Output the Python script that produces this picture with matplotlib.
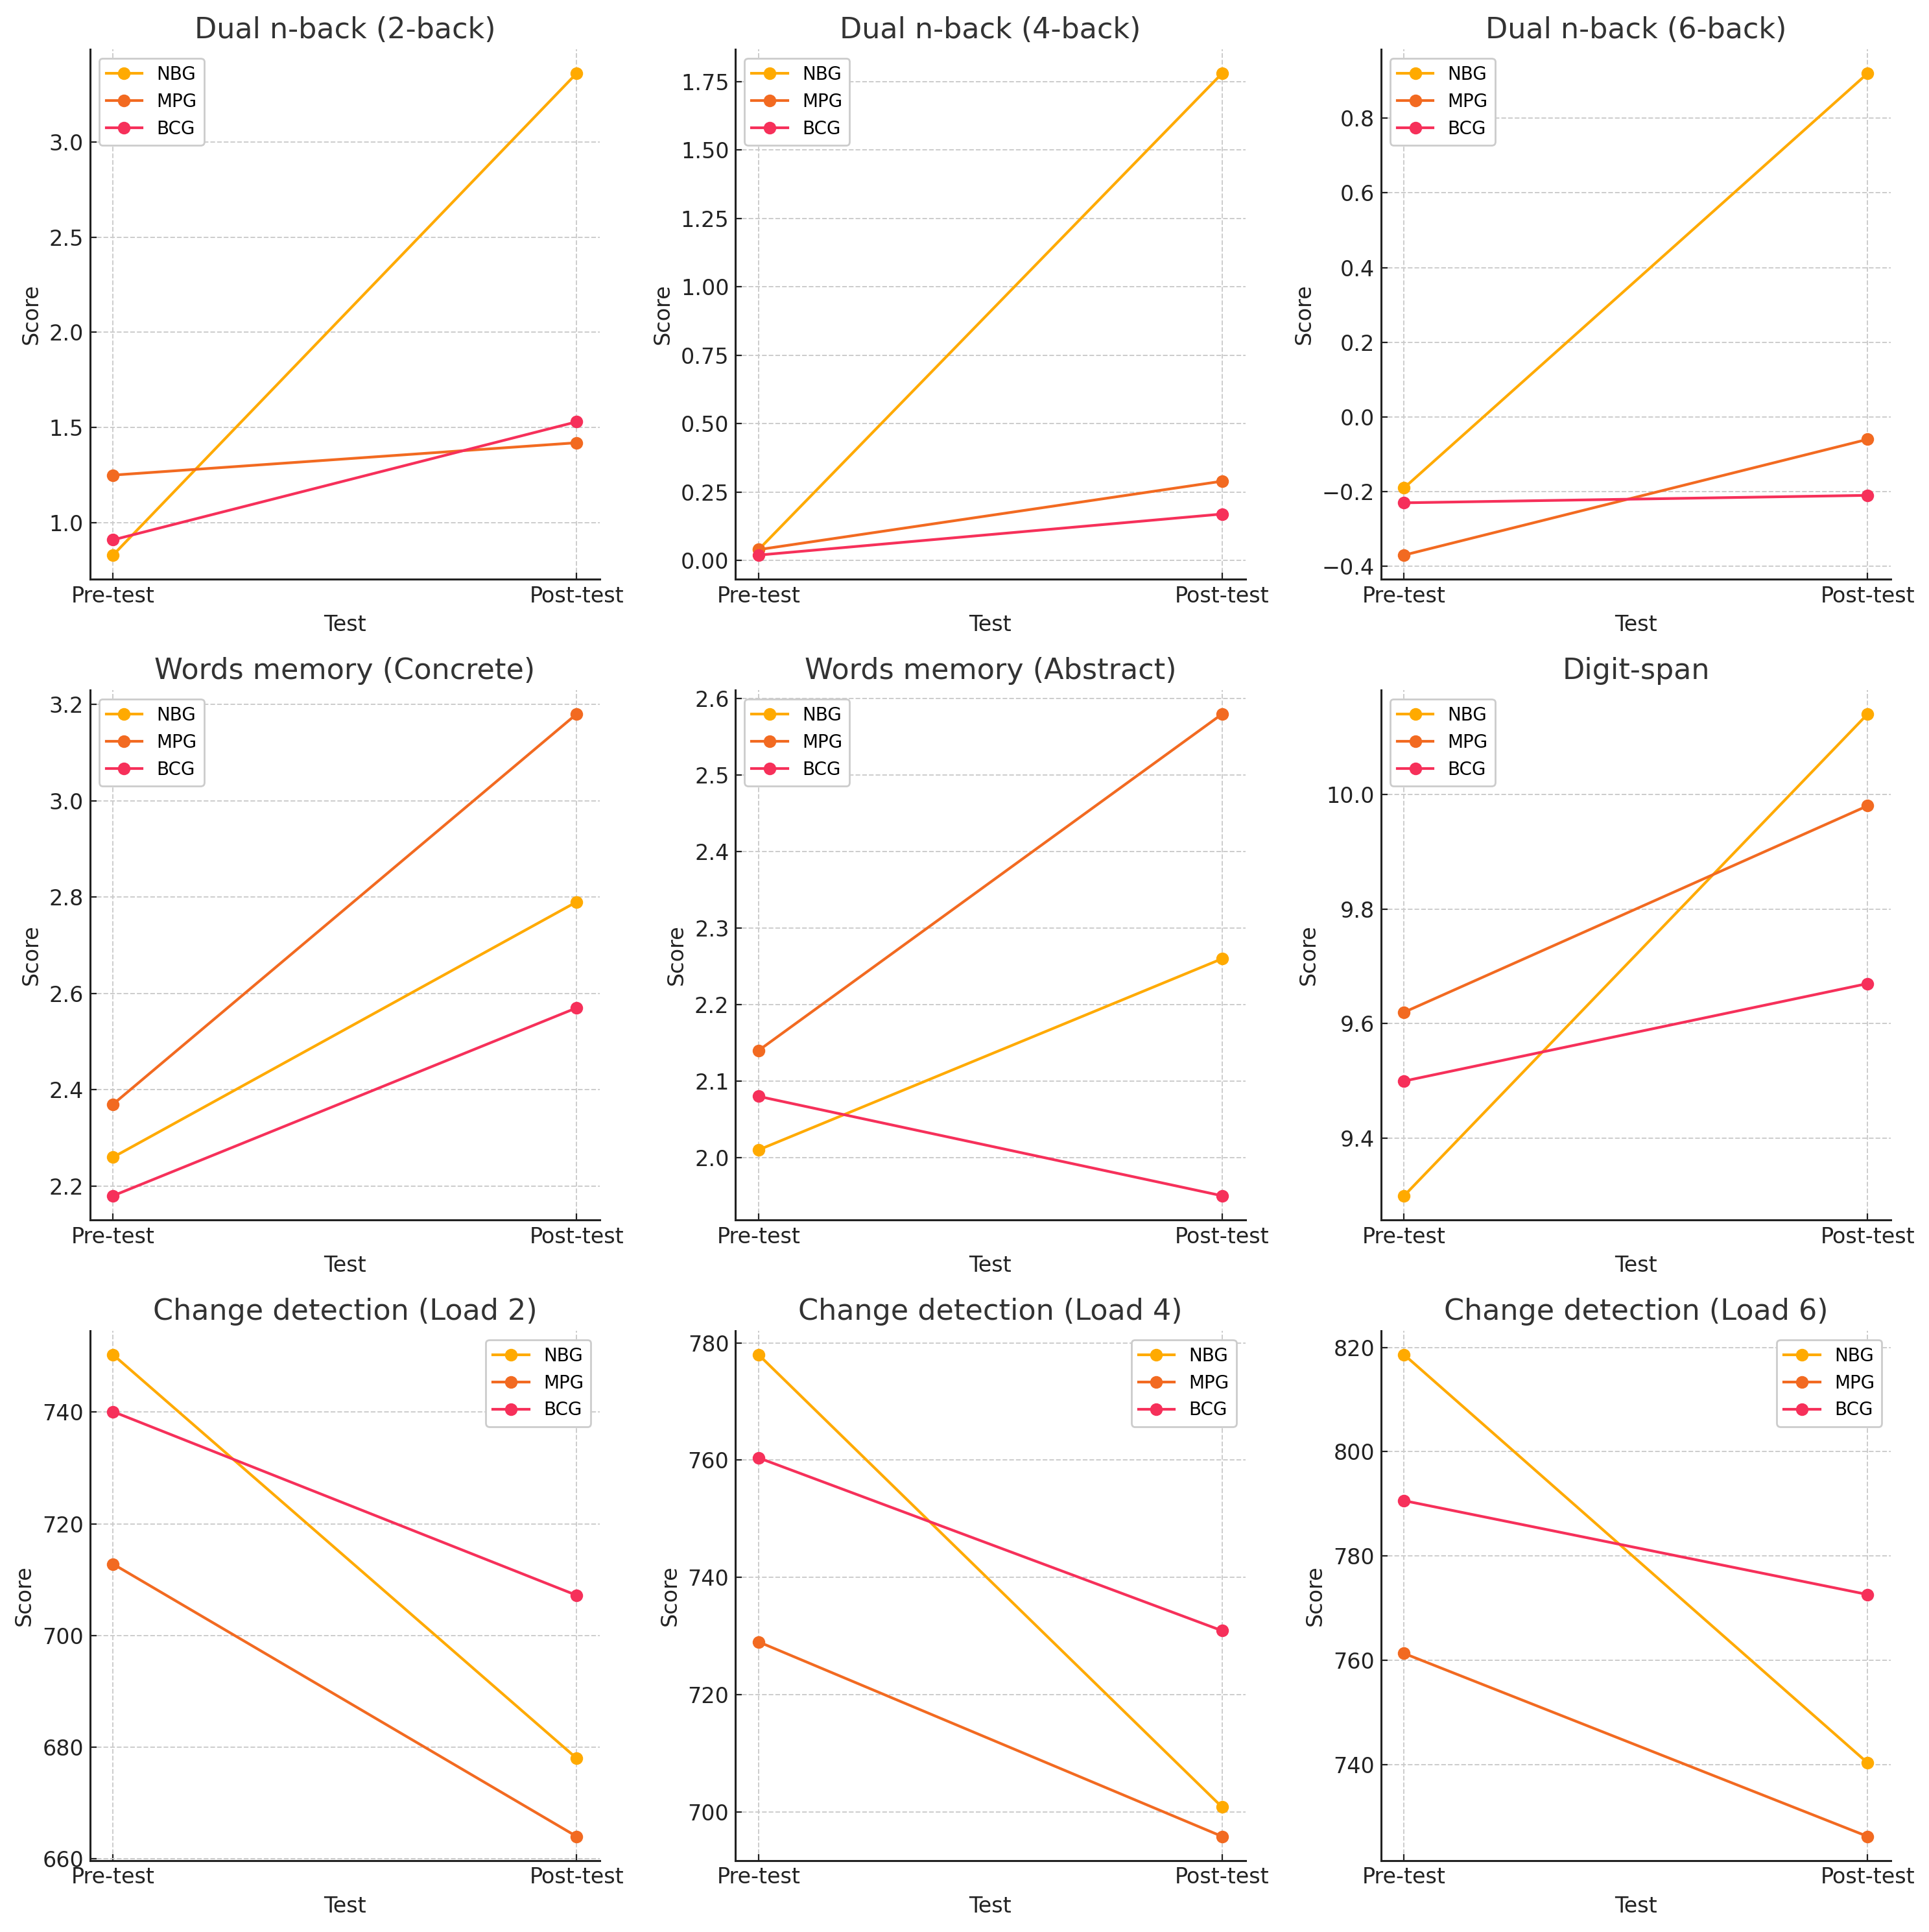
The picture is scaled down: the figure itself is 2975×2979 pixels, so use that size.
import numpy as np
import matplotlib.pyplot as plt

# pre/post means per group
tests = ["Pre-test", "Post-test"]
groups = ["NBG", "MPG", "BCG"]
colors = ["#FFAA00", "#F26A21", "#F6305A"]

titles = [
    "Dual n-back (2-back)", "Dual n-back (4-back)", "Dual n-back (6-back)",
    "Words memory (Concrete)", "Words memory (Abstract)", "Digit-span",
    "Change detection (Load 2)", "Change detection (Load 4)", "Change detection (Load 6)",
]

nback2 = {"NBG": [0.83, 3.36], "MPG": [1.25, 1.42], "BCG": [0.91, 1.53]}
nback4 = {"NBG": [0.04, 1.78], "MPG": [0.04, 0.29], "BCG": [0.02, 0.17]}
nback6 = {"NBG": [-0.19, 0.92], "MPG": [-0.37, -0.06], "BCG": [-0.23, -0.21]}
words_concrete = {"NBG": [2.26, 2.79], "MPG": [2.37, 3.18], "BCG": [2.18, 2.57]}
words_abstract = {"NBG": [2.01, 2.26], "MPG": [2.14, 2.58], "BCG": [2.08, 1.95]}
digit_span = {"NBG": [9.30, 10.14], "MPG": [9.62, 9.98], "BCG": [9.50, 9.67]}
change_load2 = {"NBG": [750.3, 678.0], "MPG": [712.8, 664.0], "BCG": [740.1, 707.2]}
change_load4 = {"NBG": [778.0, 700.8], "MPG": [729.0, 695.8], "BCG": [760.4, 730.9]}
change_load6 = {"NBG": [818.6, 740.3], "MPG": [761.3, 726.2], "BCG": [790.6, 772.6]}

datasets = [nback2, nback4, nback6,
            words_concrete, words_abstract, digit_span,
            change_load2, change_load4, change_load6]

plt.rcParams.update({
    "font.family": "DejaVu Sans",
    "axes.spines.top": False,
    "axes.spines.right": False,
    "axes.linewidth": 1.1,
    "axes.edgecolor": "#222222",
    "axes.titlecolor": "#333333",
    "axes.labelcolor": "#222222",
    "xtick.color": "#222222",
    "ytick.color": "#222222",
    "xtick.direction": "in",
    "ytick.direction": "in",
    "xtick.major.size": 3.5,
    "ytick.major.size": 3.5,
    "grid.color": "#cccccc",
    "grid.linestyle": "--",
    "grid.linewidth": 0.7,
    "legend.edgecolor": "#cccccc",
    "legend.framealpha": 1.0,
})

fig, axes = plt.subplots(3, 3, figsize=(14.875, 14.895), dpi=200)

for ax, title, data in zip(axes.flat, titles, datasets):
    for g, c in zip(groups, colors):
        ax.plot(tests, data[g], marker="o", color=c, label=g, linewidth=1.5, markersize=6)
    ax.set_title(title, fontsize=16)
    ax.set_xlabel("Test", fontsize=12)
    ax.set_ylabel("Score", fontsize=12)
    ax.tick_params(labelsize=12)
    ax.grid(True)
    ax.legend(loc="best", fontsize=10)

plt.subplots_adjust(left=0.0466, right=0.9802, top=0.9745, bottom=0.037,
                    wspace=0.266, hspace=0.209)
plt.savefig("out.png", dpi=200)
